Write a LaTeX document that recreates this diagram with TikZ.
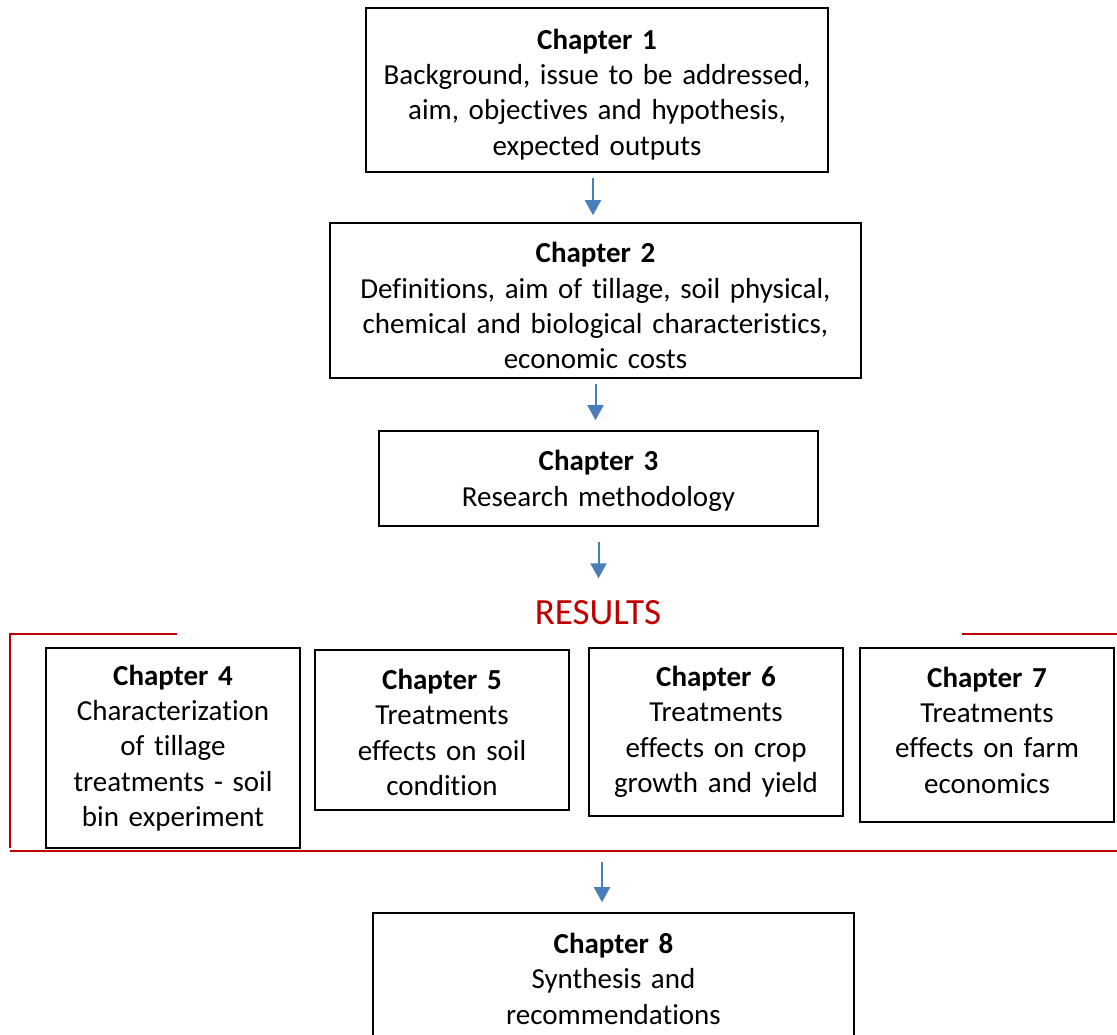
\documentclass[tikz,border=0pt]{standalone}
\usepackage{fontspec}
\setmainfont[RawFeature={-liga;-clig;-dlig;-calt;-rlig;-ccmp}]{Carlito}
\usetikzlibrary{arrows.meta}

\definecolor{arrowblue}{HTML}{4A7EBB}
\definecolor{resultred}{HTML}{C00000}

\begin{document}
\begin{tikzpicture}[
            x = 1pt, y = -1pt, % pixel units, y downwards
            > = {Triangle[width=16pt,length=15pt]}, % arrow head style
            font = \fontsize{29}{35.4}\selectfont,
            textdown/.style = {execute at begin node = {\rule{0pt}{#1}}},
            textup/.style = {execute at end node = {\rule[-#1]{0pt}{0pt}}}
        ]

        \tikzstyle{chapter}=[
            draw = black,
            line width = 1.6pt,
            align = center,
            inner sep = 0pt
        ]
        \tikzstyle{flow}=[->, draw = arrowblue, line width = 2pt]
        \tikzstyle{bracket}=[draw = resultred, line width = 1.6pt]

        \useasboundingbox (0,0) rectangle (1117,1034);

        \node[chapter, textdown=29pt, minimum width=462pt, minimum height=164pt, text width=452pt] (ch1) at (597,90)
            {\textbf{Chapter 1}\\Background, issue to be addressed,\\aim, objectives and hypothesis,\\expected outputs};
        \node[chapter, textdown=31pt, minimum width=531pt, minimum height=155pt, text width=521pt] (ch2) at (595.5,300.5)
            {\textbf{Chapter 2}\\Definitions, aim of tillage, soil physical,\\chemical and biological characteristics,\\economic costs};
        \node[chapter, textdown=25pt, minimum width=439pt, minimum height=95pt, text width=429pt] (ch3) at (598.5,478.5)
            {\textbf{Chapter 3}\\Research methodology};

        \node[text = resultred, font = \fontsize{37}{44}\selectfont] (results) at (598,613) {RESULTS};

        \node[chapter, minimum width=254pt, minimum height=200pt, text width=244pt] (ch4) at (173,748)
            {\textbf{Chapter 4}\\Characterization\\of tillage\\treatments - soil\\bin experiment};
        \node[chapter, textdown=25pt, minimum width=254pt, minimum height=160pt, text width=244pt] (ch5) at (442,730)
            {\textbf{Chapter 5}\\Treatments\\effects on soil\\condition};
        \node[chapter, minimum width=254pt, minimum height=168pt, text width=244pt] (ch6) at (716,732)
            {\textbf{Chapter 6}\\Treatments\\effects on crop\\growth and yield};
        \node[chapter, textup=10pt, minimum width=254pt, minimum height=174pt, text width=244pt] (ch7) at (987,735)
            {\textbf{Chapter 7}\\Treatments\\effects on farm\\economics};

        \node[chapter, textup=6pt, minimum width=481pt, minimum height=137pt, text width=471pt] (ch8) at (613.5,981.5)
            {\textbf{Chapter 8}\\Synthesis and\\recommendations};

        % red bracket round the results
        \draw[bracket] (177,634) -- (10,634) -- (10,848);
        \draw[bracket] (962,634) -- (1117,634);
        \draw[bracket] (10,851) -- (1117,851);
        \coordinate (resbase) at (602,851);

        \draw[flow, shorten <=5pt, shorten >=7pt] ([xshift=-4pt]ch1.south) -- ([xshift=-4pt]ch1.south |- ch2.north);
        \draw[flow, shorten <=5pt, shorten >=10pt] (ch2.south) -- (ch2.south |- ch3.north);
        \draw[flow, shorten <=15pt, shorten >=19pt] (ch3.south) -- (ch3.south |- results.north);
        \draw[flow, shorten <=11pt, shorten >=10pt] (resbase) -- (resbase |- ch8.north);

  \end{tikzpicture}
\end{document}
